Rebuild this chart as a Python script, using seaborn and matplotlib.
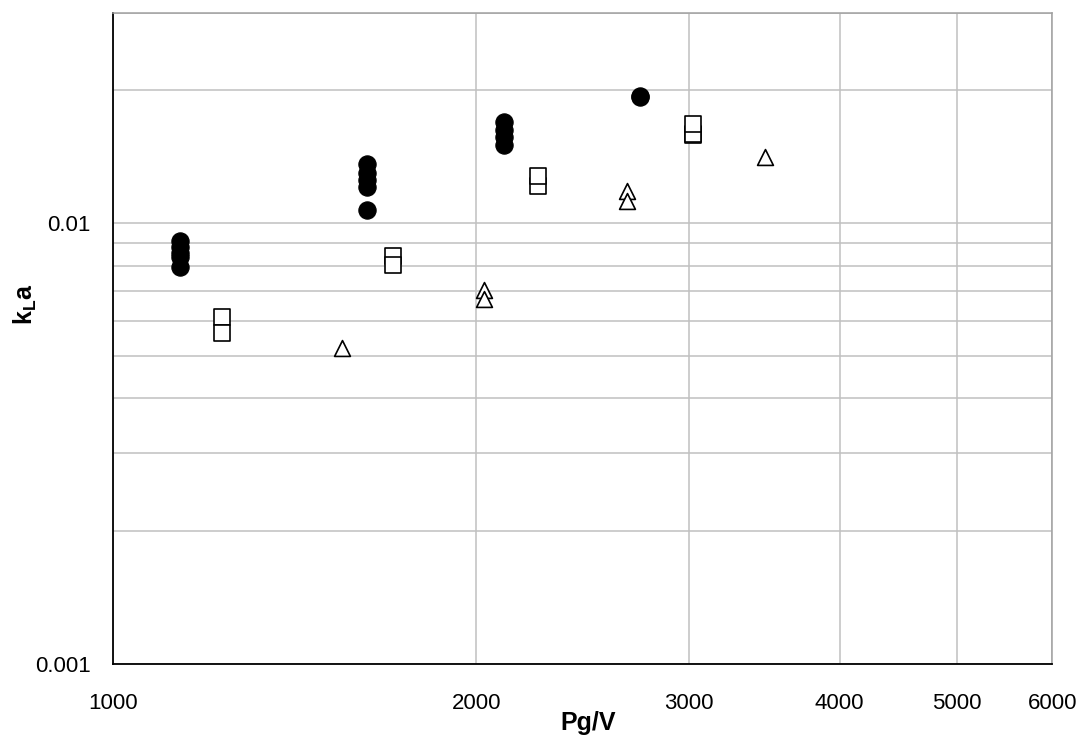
import numpy as np
import pandas as pd
import matplotlib
matplotlib.use("Agg")
import matplotlib.pyplot as plt
import matplotlib.ticker as mticker
import seaborn as sns

sns.set_style("white")
plt.rcParams['font.family'] = ['Liberation Sans', 'DejaVu Sans']
plt.rcParams['mathtext.fontset'] = 'custom'
plt.rcParams['mathtext.rm'] = 'Liberation Sans'
plt.rcParams['mathtext.bf'] = 'Liberation Sans:bold'
plt.rcParams['text.color'] = 'black'
plt.rcParams['axes.labelcolor'] = 'black'
plt.rcParams['xtick.color'] = 'black'
plt.rcParams['ytick.color'] = 'black'

# Data (Pg/V vs kLa)
circle_x = [1136, 1136, 1136, 1136, 1136,
            1623, 1623, 1623, 1623, 1623,
            2109, 2109, 2109, 2109,
            2731, 2731]
circle_y = [0.00912, 0.00884, 0.00856, 0.00835, 0.00793,
            0.01363, 0.0130, 0.01253, 0.01209, 0.01072,
            0.0169, 0.01627, 0.01569, 0.0150,
            0.01937, 0.0193]

square_x = [1230, 1230, 1707, 1707, 2251, 2251, 3023, 3023, 3023]
square_y = [0.00613, 0.00562, 0.0084, 0.00803, 0.01215, 0.01278,
            0.0158, 0.01594, 0.01673]

triangle_x = [1549, 2031, 2031, 2667, 2667, 3472]
triangle_y = [0.00519, 0.00704, 0.00673, 0.0118, 0.0112, 0.01411]

x_ticks = [1000, 2000, 3000, 4000, 5000, 6000]
x_ticklabels = ['1000', '2000', '3000', '4000', '5000', '6000']
y_ticks = [0.001, 0.01]
y_ticklabels = ['0.001', '0.01']

df_c = pd.DataFrame({"x": circle_x, "y": circle_y})
df_s = pd.DataFrame({"x": square_x, "y": square_y})
df_t = pd.DataFrame({"x": triangle_x, "y": triangle_y})

fig = plt.figure(figsize=(10.87, 7.40), dpi=100)
ax = fig.add_axes([0.104, 0.103, 0.864, 0.880])
ax.set_xscale('log')
ax.set_yscale('log')

sns.scatterplot(data=df_c, x="x", y="y", marker='o', s=155, color='black',
                edgecolor='black', linewidth=0.8, ax=ax, zorder=3)
sns.scatterplot(data=df_s, x="x", y="y", marker='s', s=130, color='white',
                edgecolor='black', linewidth=1.2, ax=ax, zorder=3)
sns.scatterplot(data=df_t, x="x", y="y", marker='^', s=130, color='white',
                edgecolor='black', linewidth=1.2, ax=ax, zorder=3)

ax.set_xlim(1000, 6000)
ax.set_ylim(0.001, 0.03)

ax.xaxis.set_major_locator(mticker.FixedLocator(x_ticks))
ax.xaxis.set_major_formatter(mticker.FixedFormatter(x_ticklabels))
ax.xaxis.set_minor_locator(mticker.NullLocator())
ax.yaxis.set_major_locator(mticker.FixedLocator(y_ticks))
ax.yaxis.set_major_formatter(mticker.FixedFormatter(y_ticklabels))
ax.yaxis.set_minor_locator(mticker.LogLocator(base=10, subs=np.arange(2, 10)))
ax.yaxis.set_minor_formatter(mticker.NullFormatter())

ax.grid(True, which='major', axis='x', color='#c0c0c0', linewidth=1.1)
ax.grid(True, which='both', axis='y', color='#c0c0c0', linewidth=1.1)
ax.set_axisbelow(True)

ax.tick_params(axis='both', which='both', direction='in', length=4, width=1,
               color='black', labelcolor='black', labelsize=16)
ax.tick_params(axis='x', pad=21)
ax.tick_params(axis='y', pad=16)

for side in ['left', 'bottom']:
    ax.spines[side].set_color('black')
    ax.spines[side].set_linewidth(1.3)
for side in ['top', 'right']:
    ax.spines[side].set_color('#a0a0a0')
    ax.spines[side].set_linewidth(1.1)

ax.set_xlabel('Pg/V', fontsize=18, fontweight='bold', color='black')
ax.set_ylabel(r'$\mathbf{k_L a}$', fontsize=18, color='black')
# label anchors: top edge of x label, right edge of rotated y label
ax.xaxis.set_label_coords((588 - 113) / 939, -(711 - 664) / 651)
ax.yaxis.set_label_coords((39 - 113) / 939, (664 - 305) / 651)

fig.savefig("out.png", dpi=100)
plt.close(fig)
